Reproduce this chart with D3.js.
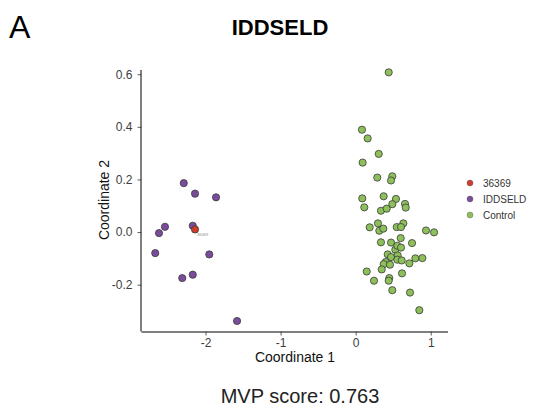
<!DOCTYPE html>
<html>
<head>
<meta charset="utf-8">
<script src="https://cdn.jsdelivr.net/npm/d3@7"></script>
<style>
  body { margin: 0; background: #fff; }
  text { font-family: "Liberation Sans", Arial, sans-serif; }
</style>
</head>
<body>
<svg id="chart" width="533" height="410"></svg>
<script>
// MDS coordinates per sample group
const controlX = [0.44, 0.084, 0.16, 0.307, 0.093, 0.288, 0.488, 0.471, 0.088, 0.373, 0.537, 0.657, 0.488, 0.115, 0.337, 0.413, 0.667, 0.187, 0.297, 0.315, 0.368, 0.547, 0.635, 0.604, 0.937, 1.044, 0.337, 0.471, 0.600, 0.751, 0.528, 0.555, 0.604, 0.427, 0.471, 0.56, 0.40, 0.555, 0.613, 0.795, 0.888, 0.715, 0.373, 0.457, 0.347, 0.147, 0.617, 0.448, 0.44, 0.244, 0.488, 0.724, 0.848];
const controlY = [0.607, 0.389, 0.356, 0.297, 0.264, 0.207, 0.212, 0.196, 0.128, 0.136, 0.126, 0.107, 0.106, 0.094, 0.081, 0.089, 0.093, 0.018, 0.033, 0.005, 0.013, 0.019, 0.033, 0.019, 0.006, -0.001, -0.039, -0.040, -0.023, -0.042, -0.067, -0.052, -0.059, -0.085, -0.095, -0.089, -0.114, -0.105, -0.108, -0.100, -0.099, -0.119, -0.122, -0.124, -0.142, -0.150, -0.157, -0.175, -0.185, -0.185, -0.221, -0.230, -0.297];
const caseX = [-2.29, -2.14, -1.86, -2.54, -2.62, -2.17, -2.67, -1.95, -2.17, -2.31, -1.58];
const caseY = [0.186, 0.146, 0.132, 0.02, -0.004, 0.024, -0.08, -0.085, -0.162, -0.175, -0.338];
const probandX = [-2.14];
const probandY = [0.010];
const probandLabel = "36369";

const groups = ["36369", "IDDSELD", "Control"];
const groupColors = ["#cf3b2c", "#7b4c9c", "#8dc05a"];
const xTicks = [-2, -1, 0, 1];
const yTicks = [-0.2, 0.0, 0.2, 0.4, 0.6];
const panelLetter = "A";
const title = "IDDSELD";
const scoreText = "MVP score: 0.763";

const svg = d3.select("#chart");
const x = d3.scaleLinear().domain([-2.853, 1.23]).range([141.5, 448]);
const y = d3.scaleLinear().domain([-0.378, 0.616]).range([331.5, 70]);
const color = d3.scaleOrdinal().domain(groups).range(groupColors);

// plain hyphen-minus for negative tick labels
const fmtX = d => String(d);
const fmtY = d => d.toFixed(1);

// axes (classic theme: left and bottom lines only)
const xAxis = svg.append("g")
  .attr("transform", `translate(0,${y.range()[0]})`)
  .call(d3.axisBottom(x).tickValues(xTicks).tickFormat(fmtX).tickSizeOuter(0).tickSize(4).tickPadding(2.5));
const yAxis = svg.append("g")
  .attr("transform", `translate(${x.range()[0]},0)`)
  .call(d3.axisLeft(y).tickValues(yTicks).tickFormat(fmtY).tickSizeOuter(0).tickSize(4).tickPadding(5));
[xAxis, yAxis].forEach(g => {
  g.select(".domain").attr("stroke", "#000").attr("stroke-width", 1);
  g.selectAll(".tick line").attr("stroke", "#333").attr("stroke-width", 0.8);
  g.selectAll(".tick text").attr("fill", "#3d3d3d").style("font-size", "12px")
    .style("font-family", "Liberation Sans, Arial, sans-serif");
});
// extend the axis lines to meet in the corner
xAxis.select(".domain").attr("d", `M${x.range()[0]},0.5H${x.range()[1]}`);
yAxis.select(".domain").attr("d", `M-0.5,${y.range()[0]}V${y.range()[1]}`);

// axis titles
svg.append("text").attr("x", 295).attr("y", 362).attr("text-anchor", "middle")
  .style("font-size", "14px").attr("fill", "#111").text("Coordinate 1");
svg.append("text").attr("transform", "translate(109,200) rotate(-90)").attr("text-anchor", "middle")
  .style("font-size", "14px").attr("fill", "#111").text("Coordinate 2");

// points
const pts = svg.append("g");
function drawGroup(xs, ys, name) {
  pts.selectAll(null).data(xs.map((v, i) => [v, ys[i]])).enter().append("circle")
    .attr("cx", d => x(d[0])).attr("cy", d => y(d[1])).attr("r", 3.6)
    .attr("fill", color(name)).attr("stroke", "#3a3a3a").attr("stroke-width", 0.8);
}
drawGroup(controlX, controlY, "Control");
drawGroup(caseX, caseY, "IDDSELD");
drawGroup(probandX, probandY, "36369");

// small label next to the proband
svg.append("text").attr("x", x(probandX[0]) + 2).attr("y", y(probandY[0]) + 7)
  .style("font-size", "4px").attr("fill", "#8a8a8a").text(probandLabel);

// legend
const leg = svg.append("g").attr("transform", "translate(470,183)");
groups.forEach((g, i) => {
  leg.append("circle").attr("cx", 0).attr("cy", i * 16).attr("r", 3)
    .attr("fill", color(g)).attr("stroke", "#555").attr("stroke-width", 0.4);
  leg.append("text").attr("x", 13).attr("y", i * 16 + 3.5)
    .style("font-size", "10px").attr("fill", "#333").text(g);
});

// headings
svg.append("text").attr("x", 9).attr("y", 38).style("font-size", "32px").attr("fill", "#000").text(panelLetter);
svg.append("text").attr("x", 280).attr("y", 34.5).attr("text-anchor", "middle")
  .style("font-size", "22px").style("font-weight", "bold").attr("fill", "#000").text(title);
svg.append("text").attr("x", 300).attr("y", 403).attr("text-anchor", "middle")
  .style("font-size", "20px").attr("fill", "#222").text(scoreText);
</script>
</body>
</html>
